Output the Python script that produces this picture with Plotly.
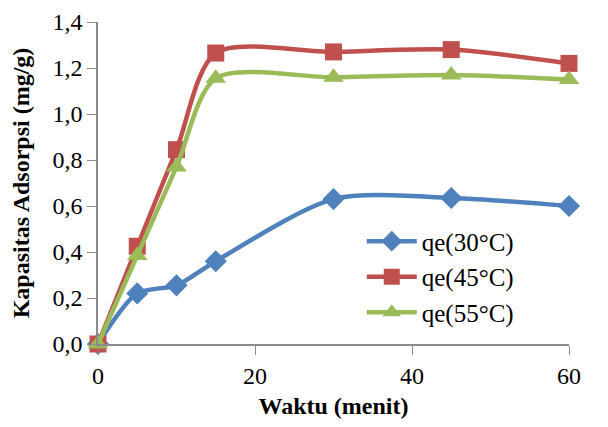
import plotly.graph_objects as go

waktu = [0, 5, 10, 15, 30, 45, 60]
qe30 = [0.0, 0.22, 0.255, 0.36, 0.63, 0.635, 0.60]
qe45 = [0.0, 0.425, 0.845, 1.265, 1.27, 1.28, 1.22]
qe55 = [0.0, 0.385, 0.77, 1.155, 1.16, 1.17, 1.15]

series = [
    ("qe(30°C)", qe30, "#4F81BD", "diamond", 17),
    ("qe(45°C)", qe45, "#C0504D", "square", 17),
    ("qe(55°C)", qe55, "#9BBB59", "triangle-up", 18),
]

FONT = "Liberation Serif, Times New Roman, serif"

fig = go.Figure()
for name, ys, color, sym, size in series:
    fig.add_trace(go.Scatter(
        x=waktu, y=ys, name=name, mode="lines+markers",
        line=dict(color=color, width=4.5, shape="spline", smoothing=0.8),
        marker=dict(symbol=sym, size=size, color=color),
        cliponaxis=False,
    ))

axis_font = dict(family=FONT, size=24, color="black")
fig.update_layout(
    width=592, height=411,
    margin=dict(l=90, r=31, t=14, b=75),
    paper_bgcolor="white", plot_bgcolor="white",
    separators=",.",
    font=dict(family=FONT, color="black"),
    xaxis=dict(
        range=[0, 60], tickvals=[0, 20, 40, 60], showgrid=False, zeroline=False,
        showline=True, linecolor="#8c8c8c", linewidth=1.5, automargin=False,
        ticks="outside", ticklen=9, tickcolor="#8c8c8c", tickfont=axis_font,
        ticklabeloverflow="allow",
        title=dict(text="<b>Waktu (menit)</b>", font=dict(family=FONT, size=24, color="black"), standoff=17),
    ),
    yaxis=dict(
        range=[0, 1.4], dtick=0.2, tickformat=".1f", showgrid=False, zeroline=False,
        showline=True, linecolor="#8c8c8c", linewidth=1.5, automargin=False,
        ticks="outside", ticklen=9, tickcolor="#8c8c8c", tickfont=axis_font,
        ticklabeloverflow="allow",
        title=dict(text="<b>Kapasitas Adsorpsi (mg/g)</b>", font=dict(family=FONT, size=24, color="black"), standoff=23),
    ),
    legend=dict(
        x=0.56, y=0.39, xanchor="left", yanchor="top",
        font=dict(family=FONT, size=25, color="black"),
        bgcolor="rgba(0,0,0,0)", itemwidth=50, tracegroupgap=0,
    ),
)

fig.write_html("out.html")
